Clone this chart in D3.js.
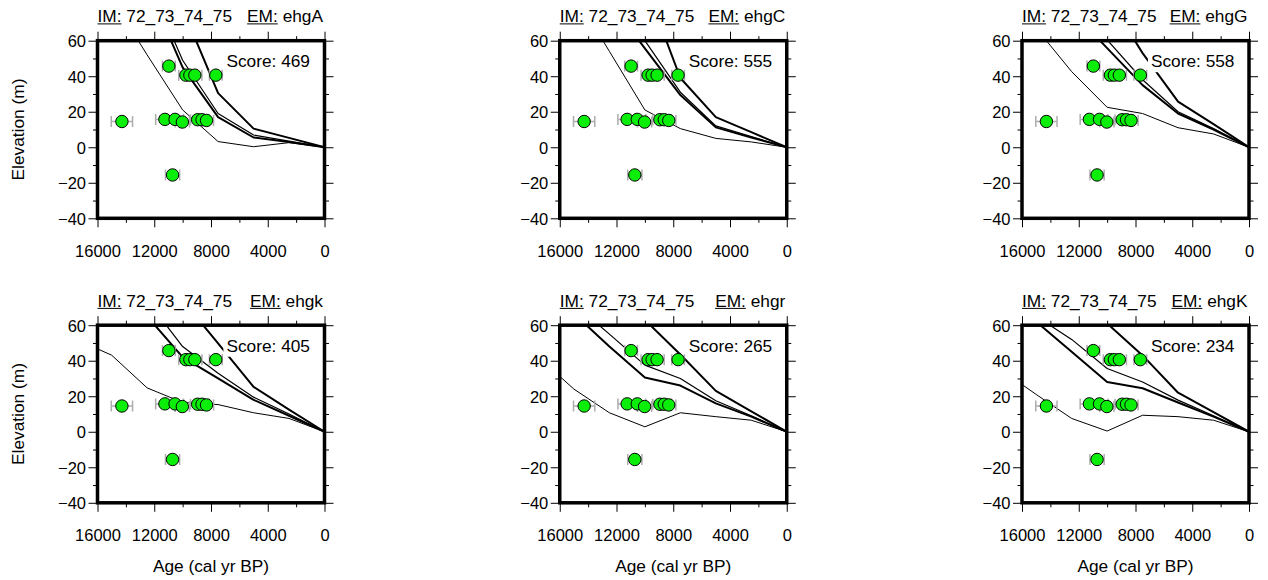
<!DOCTYPE html>
<html><head><meta charset="utf-8">
<script src="https://cdn.jsdelivr.net/npm/d3@7"></script>
<style>
body{margin:0;background:#fff}
svg text{font-family:"Liberation Sans",Arial,Helvetica,sans-serif;fill:#000}
</style>
</head><body>
<svg id="c" width="1268" height="580"></svg>
<script>
// ---------------- data ----------------
const sampleAges  = [14280, 10970, 9770, 9490, 9140, 7660, 11250, 10535, 10020, 8940, 8633, 8317, 10710];
const sampleElevs = [14.5, 45.7, 40.6, 40.6, 40.6, 40.6, 15.7, 15.7, 14.2, 15.5, 15.5, 15.1, -15.6];
const sampleAgeErr = [750, 450, 500, 500, 500, 450, 650, 600, 500, 500, 500, 500, 500];

const modelAges = [0, 2500, 5000, 7500, 10000, 12500, 15000, 17500];

const emNames = ["ehgA", "ehgC", "ehgG", "ehgk", "ehgr", "ehgK"];
const scores  = [469, 555, 558, 405, 265, 234];
const imName  = "72_73_74_75";

// model curves: four sites per panel (elevation at modelAges)
const curvesA = [
  [0, 2.6, 0.3, 3.2, 21, 52, 84, 116],
  [0, 3, 5.5, 17, 45, 91, 130, 170],
  [0, 3.5, 6.9, 19, 49, 95, 135, 175],
  [0, 5.3, 10.5, 30.5, 78, 125, 170, 215]
];
const curvesC = [
  [0, 3, 5, 10.5, 21, 54, 87, 120],
  [0, 5.5, 11.2, 29.4, 55.7, 82, 110, 140],
  [0, 6, 12, 31, 60, 90, 120, 150],
  [0, 8.5, 17, 39, 92, 140, 190, 240]
];
const curvesG = [
  [0, 7.5, 11, 19, 22.5, 42.6, 67, 92],
  [0, 10, 19, 35, 55.8, 77, 98, 120],
  [0, 10.5, 20, 38, 60.5, 85, 108, 130],
  [0, 13, 25.7, 53, 85, 117, 150, 180]
];
const curvesk = [
  [0, 7.5, 10.7, 15.3, 16.5, 24.7, 43.1, 52],
  [0, 9, 18, 30, 42, 65, 85, 105],
  [0, 10, 19.5, 33, 48, 74, 100, 125],
  [0, 12.5, 25.3, 49.8, 74, 98, 122, 146]
];
const curvesr = [
  [0, 6.5, 8.5, 10.7, 2.8, 10.7, 24, 42],
  [0, 8.5, 16, 26, 30.5, 48, 66.5, 85],
  [0, 9, 17.5, 30, 37.5, 55, 72, 90],
  [0, 11.5, 23, 43.5, 63, 85, 105, 125]
];
const curvesK = [
  [0, 6.5, 8.5, 9.3, 0.4, 7.5, 21, 35],
  [0, 8.5, 16.5, 24.5, 28, 45, 62, 80],
  [0, 9, 17.8, 28, 35.6, 52, 65, 80],
  [0, 11, 22, 43, 61, 80, 100, 120]
];
const panelCurves = [curvesA, curvesC, curvesG, curvesk, curvesr, curvesK];

const xMajor = [16000, 12000, 8000, 4000, 0];
const xMinor = [14000, 10000, 6000, 2000];
const yMajor = [-40, -20, 0, 20, 40, 60];
const yMinor = [-30, -10, 10, 30, 50];

// ---------------- layout ----------------
const W = 227, H = 177.6;
const colX = [97.5, 559.75, 1022];
const rowY = [40.7, 325.2];
const FS = 17.3, FT = 16.5;
const lineWidths = [1, 2, 1.2, 2];

const svg = d3.select("#c");
const fmtY = d => d < 0 ? "\u2212" + Math.abs(d) : String(d);

emNames.forEach((em, i) => {
  const col = i % 3, row = Math.floor(i / 3);
  const g = svg.append("g").attr("transform", `translate(${colX[col]},${rowY[row]})`);
  const x = d3.scaleLinear().domain([16000, 0]).range([0, W]);
  const y = d3.scaleLinear().domain([-40, 60]).range([H, 0]);

  const cid = "clip" + i;
  g.append("clipPath").attr("id", cid).append("rect").attr("width", W).attr("height", H);

  const mk = (axis, vals, size, fmt, tr) => {
    const a = g.append("g").attr("transform", tr || null)
      .call(axis.tickValues(vals).tickSize(size).tickPadding(2.5).tickFormat(fmt));
    a.select(".domain").remove();
    a.selectAll("line").attr("stroke", "#000").attr("stroke-width", 1);
    return a;
  };
  const bottom = mk(d3.axisBottom(x), xMajor, 9, d3.format("d"), `translate(0,${H})`);
  bottom.selectAll("text").attr("y", 38.5).attr("dy", 0).attr("font-size", FT)
    .attr("font-family", null);
  mk(d3.axisBottom(x), xMinor, 4.5, () => "", `translate(0,${H})`);
  mk(d3.axisTop(x), xMajor, 9, () => "");
  mk(d3.axisTop(x), xMinor, 4.5, () => "");
  const left = mk(d3.axisLeft(y), yMajor, 9, fmtY);
  left.selectAll("text").attr("font-size", FT).attr("font-family", null).attr("dy", "0.36em");
  mk(d3.axisLeft(y), yMinor, 4.5, () => "");
  mk(d3.axisRight(y), yMajor, 9, () => "", `translate(${W},0)`);
  mk(d3.axisRight(y), yMinor, 4.5, () => "", `translate(${W},0)`);
  g.selectAll(".tick text").attr("fill", "#000");

  const inner = g.append("g").attr("clip-path", `url(#${cid})`);
  const line = d3.line().x(d => x(d[0])).y(d => y(d[1]));
  panelCurves[i].forEach((c, k) => {
    inner.append("path")
      .attr("d", line(modelAges.map((a, j) => [a, c[j]])))
      .attr("fill", "none").attr("stroke", "#000")
      .attr("stroke-width", lineWidths[k]).attr("stroke-linejoin", "round");
  });

  const eb = inner.append("g").attr("stroke", "#adadad").attr("stroke-width", 1.5);
  sampleAges.forEach((a, j) => {
    const yy = y(sampleElevs[j]);
    const x1 = x(a + sampleAgeErr[j]), x2 = x(a - sampleAgeErr[j]);
    eb.append("line").attr("x1", x1).attr("x2", x2).attr("y1", yy).attr("y2", yy);
    eb.append("line").attr("x1", x1).attr("x2", x1).attr("y1", yy - 5.5).attr("y2", yy + 5.5);
    eb.append("line").attr("x1", x2).attr("x2", x2).attr("y1", yy - 5.5).attr("y2", yy + 5.5);
  });
  inner.append("g").selectAll("circle").data(sampleAges).join("circle")
    .attr("cx", d => x(d)).attr("cy", (d, j) => y(sampleElevs[j]))
    .attr("r", 6.2).attr("fill", "#0aee0a").attr("stroke", "#000").attr("stroke-width", 1);

  const sg = g.append("g");
  const st = sg.append("text").attr("x", W - 14.5).attr("y", 26.5)
    .attr("text-anchor", "end").attr("font-size", FS).text("Score: " + scores[i]);
  const bb = st.node().getBBox();
  sg.insert("rect", "text").attr("x", bb.x - 3).attr("y", bb.y - 1)
    .attr("width", bb.width + 6).attr("height", bb.height + 2).attr("fill", "#fff");

  const tl = g.append("text").attr("x", 0).attr("y", -18.7).attr("font-size", FS);
  tl.append("tspan").text("IM:");
  tl.append("tspan").text("\u00a0" + imName);
  const imW = tl.node().getSubStringLength(0, 3);
  g.append("line").attr("x1", 0).attr("x2", imW).attr("y1", -16.8).attr("y2", -16.8)
    .attr("stroke", "#000").attr("stroke-width", 1);
  const tr = g.append("text").attr("x", W - 1.5).attr("y", -18.7).attr("font-size", FS)
    .attr("text-anchor", "end");
  tr.append("tspan").text("EM:");
  tr.append("tspan").text("\u00a0" + em);
  const emX = tr.node().getStartPositionOfChar(0).x;
  const emW = tr.node().getSubStringLength(0, 3);
  g.append("line").attr("x1", emX).attr("x2", emX + emW).attr("y1", -16.8).attr("y2", -16.8)
    .attr("stroke", "#000").attr("stroke-width", 1);

  g.append("rect").attr("width", W).attr("height", H)
    .attr("fill", "none").attr("stroke", "#000").attr("stroke-width", 3.5);

  if (col === 0) {
    svg.append("text").attr("transform", `translate(23.5,${rowY[row] + H / 2}) rotate(-90)`)
      .attr("text-anchor", "middle").attr("font-size", FS).text("Elevation (m)");
  }
  if (row === 1) {
    svg.append("text").attr("x", colX[col] + W / 2).attr("y", 572)
      .attr("text-anchor", "middle").attr("font-size", FS).text("Age (cal yr BP)");
  }
});
</script>
</body></html>
